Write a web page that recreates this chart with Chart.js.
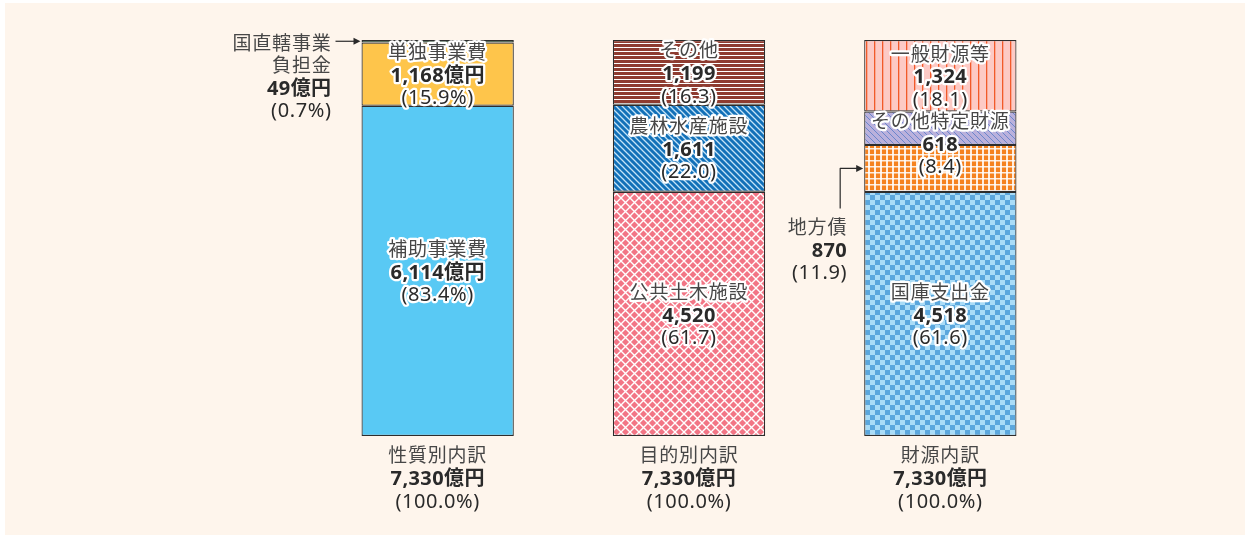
<!DOCTYPE html>
<html lang="ja">
<head>
<meta charset="UTF-8">
<title>災害復旧事業費の内訳</title>
<style>
  html, body { margin: 0; padding: 0; background: #ffffff; }
  #wrap { position: relative; width: 1250px; height: 539px; }
  #bg { position: absolute; left: 5px; top: 3px; width: 1240px; height: 532px; background: #fef5ec; }
  #chart { position: absolute; left: 0; top: 0; }
</style>
</head>
<body>
<div id="wrap">
  <div id="bg"></div>
  <canvas id="chart" width="1250" height="539"></canvas>
</div>

<script src="https://cdn.jsdelivr.net/npm/chart.js"></script>
<script>
// ---- data ----
const categories = ['性質別内訳', '目的別内訳', '財源内訳'];
const totalValue = 7330;
const totalLabels = ['7,330億円', '7,330億円', '7,330億円'];
const totalPct = ['(100.0%)', '(100.0%)', '(100.0%)'];

// bottom to top
const natureNames = ['補助事業費', '単独事業費', '国直轄事業負担金'];
const natureValues = [6114, 1168, 49];
const naturePct = ['83.4%', '15.9%', '0.7%'];

const purposeNames = ['公共土木施設', '農林水産施設', 'その他'];
const purposeValues = [4520, 1611, 1199];
const purposePct = ['61.7', '22.0', '16.3'];

const sourceNames = ['国庫支出金', '地方債', 'その他特定財源', '一般財源等'];
const sourceValues = [4518, 870, 618, 1324];
const sourcePct = ['61.6', '11.9', '8.4', '18.1'];

// ---- patterns ----
function tile(w, h, draw) {
  const c = document.createElement('canvas');
  c.width = w; c.height = h;
  const g = c.getContext('2d');
  draw(g, w, h);
  return document.getElementById('chart').getContext('2d').createPattern(c, 'repeat');
}
const fills = {
  hojo: '#59c9f4',
  tandoku: '#fec54b',
  chokkatsu: '#4fae6e',
  sonota: tile(4, 4, (g) => {
    g.fillStyle = '#8e3b30'; g.fillRect(0, 0, 4, 4);
    g.fillStyle = '#ffffff'; g.fillRect(0, 3, 4, 1);
  }),
  norin: tile(6, 6, (g) => {
    g.fillStyle = '#1270b8'; g.fillRect(0, 0, 6, 6);
    g.strokeStyle = '#c4e3f7'; g.lineWidth = 1.3;
    g.beginPath();
    g.moveTo(-1, -1); g.lineTo(7, 7);
    g.moveTo(-1, 5); g.lineTo(1, 7);
    g.moveTo(5, -1); g.lineTo(7, 1);
    g.stroke();
  }),
  doboku: tile(9, 9, (g) => {
    g.fillStyle = '#f27585'; g.fillRect(0, 0, 9, 9);
    g.strokeStyle = '#ffffff'; g.lineWidth = 1.4;
    g.beginPath();
    g.moveTo(0, 0); g.lineTo(9, 9);
    g.moveTo(9, 0); g.lineTo(0, 9);
    g.stroke();
  }),
  ippan: tile(8, 8, (g) => {
    g.fillStyle = '#fdcac5'; g.fillRect(0, 0, 8, 8);
    g.fillStyle = '#f25a2a'; g.fillRect(2, 0, 1.3, 8);
  }),
  tokutei: tile(6, 6, (g) => {
    g.fillStyle = '#bab1dc'; g.fillRect(0, 0, 6, 6);
    g.strokeStyle = '#6b86cc'; g.lineWidth = 1;
    g.beginPath();
    g.moveTo(-1, -1); g.lineTo(7, 7);
    g.moveTo(-1, 5); g.lineTo(1, 7);
    g.moveTo(5, -1); g.lineTo(7, 1);
    g.stroke();
  }),
  chihosai: tile(6, 6, (g) => {
    g.fillStyle = '#f5821f'; g.fillRect(0, 0, 6, 6);
    g.fillStyle = 'rgba(255,255,255,0.85)';
    g.fillRect(4, 0, 2, 6);
    g.fillRect(0, 4, 6, 1.5);
  }),
  kokko: tile(10, 10, (g) => {
    g.fillStyle = '#5ba7dd'; g.fillRect(0, 0, 10, 10);
    g.fillStyle = '#aadcf7'; g.fillRect(0, 0, 5, 5); g.fillRect(5, 5, 5, 5);
  })
};

// ---- datasets ----
const datasets = [];
function addGroup(idx, names, values, pcts, fillKeys, valueSuffix, specials) {
  names.forEach((n, i) => {
    const data = [null, null, null];
    data[idx] = values[i];
    datasets.push({
      label: n,
      data: data,
      backgroundColor: fills[fillKeys[i]],
      borderColor: '#2d2d2d',
      borderWidth: 1.2,
      borderSkipped: false,
      stack: 's',
      lines: [n, values[i].toLocaleString('en-US') + valueSuffix, '(' + pcts[i] + ')'],
      special: specials[i] || null
    });
  });
}
addGroup(0, natureNames, natureValues, naturePct, ['hojo', 'tandoku', 'chokkatsu'], '億円', [null, null, 'leftTop']);
addGroup(1, purposeNames, purposeValues, purposePct, ['doboku', 'norin', 'sonota'], '', []);
addGroup(2, sourceNames, sourceValues, sourcePct, ['kokko', 'chihosai', 'tokutei', 'ippan'], '', [null, 'leftArrow', 'atBase', null]);

const FONT = '"Noto Sans", "Noto Sans CJK JP", sans-serif';
const NAME_C = '#474747';
const NUM_C = '#2a2a2a';

// kind: 0 = name, 1 = amount (bold), 2 = percentage
function setFont(ctx, kind) {
  if (kind === 0) {
    ctx.font = '400 19px ' + FONT;
    ctx.letterSpacing = '0.8px';
    ctx.fillStyle = NAME_C;
  } else if (kind === 1) {
    ctx.font = '700 20px ' + FONT;
    ctx.letterSpacing = '0.4px';
    ctx.fillStyle = NUM_C;
  } else {
    ctx.font = '400 20px ' + FONT;
    ctx.letterSpacing = '0.6px';
    ctx.fillStyle = NUM_C;
  }
}
function haloText(ctx, str, x, y, kind) {
  setFont(ctx, kind);
  ctx.lineWidth = 4.5;
  ctx.lineJoin = 'round';
  ctx.strokeStyle = '#ffffff';
  ctx.strokeText(str, x, y);
  ctx.fillText(str, x, y);
}
function plainText(ctx, str, x, y, kind, align) {
  setFont(ctx, kind);
  ctx.textAlign = align || 'center';
  ctx.fillText(str, x, y);
}
function arrowHead(ctx, x, y) {
  ctx.beginPath();
  ctx.moveTo(x, y);
  ctx.lineTo(x - 7, y - 3.5);
  ctx.lineTo(x - 7, y + 3.5);
  ctx.closePath();
  ctx.fill();
}

const labelPlugin = {
  id: 'segLabels',
  afterDatasetsDraw(chart) {
    const ctx = chart.ctx;
    ctx.save();
    ctx.textBaseline = 'middle';
    const LH = 22.5;
    chart.data.datasets.forEach((ds, di) => {
      const meta = chart.getDatasetMeta(di);
      const j = ds.data.findIndex(v => v !== null);
      const el = meta.data[j];
      const left = el.x - el.width / 2;
      if (ds.special === 'leftTop') {
        const my = (el.y + el.base) / 2;
        ctx.strokeStyle = NUM_C; ctx.fillStyle = NUM_C; ctx.lineWidth = 1.2;
        ctx.beginPath(); ctx.moveTo(left - 26, my); ctx.lineTo(left - 4, my); ctx.stroke();
        arrowHead(ctx, left - 1, my);
        const tx = left - 30;
        plainText(ctx, '国直轄事業', tx, my + 3, 0, 'right');
        plainText(ctx, '負担金', tx, my + 3 + LH, 0, 'right');
        plainText(ctx, ds.lines[1], tx, my + 3 + LH * 2, 1, 'right');
        plainText(ctx, ds.lines[2], tx, my + 3 + LH * 3, 2, 'right');
        return;
      }
      if (ds.special === 'leftArrow') {
        const my = (el.y + el.base) / 2;
        const lx = left - 24;
        ctx.strokeStyle = NUM_C; ctx.fillStyle = NUM_C; ctx.lineWidth = 1.2;
        ctx.beginPath(); ctx.moveTo(lx, my + 40); ctx.lineTo(lx, my); ctx.lineTo(left - 4, my); ctx.stroke();
        arrowHead(ctx, left - 1, my);
        const tx = left - 17;
        plainText(ctx, ds.lines[0], tx, my + 60, 0, 'right');
        plainText(ctx, ds.lines[1], tx, my + 60 + LH, 1, 'right');
        plainText(ctx, ds.lines[2], tx, my + 60 + LH * 2, 2, 'right');
        return;
      }
      ctx.textAlign = 'center';
      const cy = ds.special === 'atBase' ? el.base : (el.y + el.base) / 2 + 2;
      haloText(ctx, ds.lines[0], el.x, cy - LH, 0);
      haloText(ctx, ds.lines[1], el.x, cy, 1);
      haloText(ctx, ds.lines[2], el.x, cy + LH, 2);
    });
    // bottom category labels
    const xs = chart.scales.x;
    const bottom = chart.chartArea.bottom;
    categories.forEach((c, i) => {
      const x = xs.getPixelForValue(i);
      plainText(ctx, c, x, bottom + 21, 0, 'center');
      plainText(ctx, totalLabels[i], x, bottom + 43, 1, 'center');
      plainText(ctx, totalPct[i], x, bottom + 66, 2, 'center');
    });
    ctx.restore();
  }
};

new Chart(document.getElementById('chart'), {
  type: 'bar',
  data: { labels: categories, datasets: datasets },
  options: {
    responsive: false,
    animation: false,
    events: [],
    barPercentage: 0.606,
    categoryPercentage: 1,
    layout: { padding: { left: 312, right: 184, top: 40, bottom: 103 } },
    plugins: { legend: { display: false }, tooltip: { enabled: false } },
    scales: {
      x: { stacked: true, display: false },
      y: { stacked: true, display: false, min: 0, max: totalValue }
    }
  },
  plugins: [labelPlugin]
});
</script>
</body>
</html>
